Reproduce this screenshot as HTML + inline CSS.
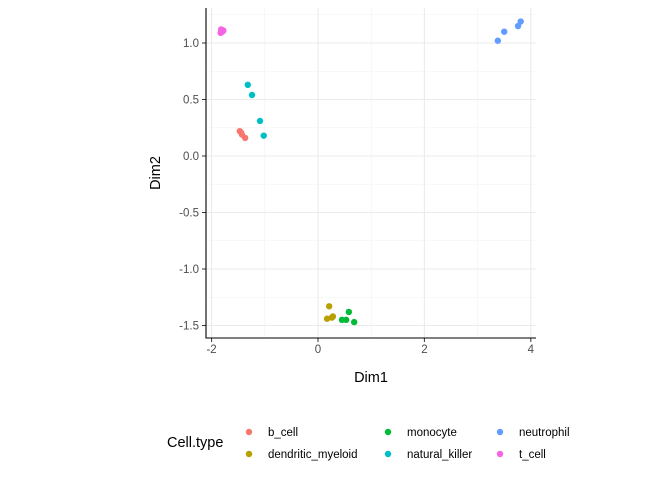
<!DOCTYPE html>
<html><head><meta charset="utf-8"><style>
body{margin:0;background:#fff;font-family:"Liberation Sans",Arial,sans-serif}
text{font-family:"Liberation Sans",Arial,sans-serif}
</style></head><body>
<svg id="c" width="672" height="480"></svg>
<script>
const cellTypes=["b_cell","dendritic_myeloid","monocyte","natural_killer","neutrophil","t_cell"];
const colors=["#F8766D","#B79F00","#00BA38","#00BFC4","#619CFF","#F564E3"];
const dim1=[-1.47,-1.43,-1.37,-1.45, 0.21,0.17,0.26,0.28, 0.58,0.53,0.45,0.68, -1.32,-1.24,-1.09,-1.02, 3.38,3.50,3.76,3.81, -1.82,-1.80,-1.83,-1.78];
const dim2=[0.22,0.19,0.16,0.21, -1.33,-1.44,-1.43,-1.42, -1.38,-1.45,-1.45,-1.47, 0.63,0.54,0.31,0.18, 1.02,1.10,1.15,1.19, 1.12,1.10,1.09,1.11];
const types=[0,0,0,0,1,1,1,1,2,2,2,2,3,3,3,3,4,4,4,4,5,5,5,5];
const xTicks=[-2,0,2,4];
const yTicks=[-1.5,-1.0,-0.5,0.0,0.5,1.0];
const NS="http://www.w3.org/2000/svg";
const svg=document.getElementById('c');
const L=206,R=536,T=8,B=338;
const sx=v=>318+53.2*v, sy=v=>156-113*v;
function mk(t,a,p){const e=document.createElementNS(NS,t);for(const k in a)e.setAttribute(k,a[k]);(p||svg).appendChild(e);return e;}
// minor grid
for(let v=-1;v<=3;v+=2){const e=mk('line',{x1:sx(v),x2:sx(v),y1:T,y2:B,stroke:'#f2f2f2','stroke-width':0.6});

}
for(let v=-1.25;v<=1.3;v+=0.5){const e=mk('line',{x1:L,x2:R,y1:sy(v),y2:sy(v),stroke:'#f2f2f2','stroke-width':0.6});

}
xTicks.forEach(v=>{const g=mk('line',{x1:sx(v),x2:sx(v),y1:T,y2:B,stroke:'#ebebeb','stroke-width':1.1});


mk('line',{x1:sx(v),x2:sx(v),y1:B,y2:B+4,stroke:'#333'});
const t=mk('text',{x:sx(v),y:B+15,'font-size':11.5,fill:'#4d4d4d','text-anchor':'middle'});t.textContent=v;

});
yTicks.forEach(v=>{const g=mk('line',{x1:L,x2:R,y1:sy(v),y2:sy(v),stroke:'#ebebeb','stroke-width':1.1});


mk('line',{x1:L-4,x2:L,y1:sy(v),y2:sy(v),stroke:'#333'});
const t=mk('text',{x:L-7,y:sy(v)+4,'font-size':11.5,fill:'#4d4d4d','text-anchor':'end'});t.textContent=v.toFixed(1);

});
const ax=mk('path',{d:`M${L},${T}V${B}H${R}`,fill:'none',stroke:'#000','stroke-width':1.1});


dim1.forEach((x,i)=>{const c=mk('circle',{cx:sx(x),cy:sy(dim2[i]),r:3.2,fill:colors[types[i]]});

});
let t=mk('text',{x:371,y:382,'font-size':14.5,'text-anchor':'middle',fill:'#000'});t.textContent='Dim1';


t=mk('text',{x:0,y:0,'font-size':14.5,'text-anchor':'middle',fill:'#000',transform:'translate(160,173) rotate(-90)'});t.textContent='Dim2';


t=mk('text',{x:167,y:447,'font-size':14.5,fill:'#000'});t.textContent='Cell.type';


const colX=[249,388,500],rowY=[432,454];
cellTypes.forEach((n,i)=>{const cx=colX[Math.floor(i/2)],cy=rowY[i%2];
const c=mk('circle',{cx:cx,cy:cy,r:3.2,fill:colors[i]});


const tt=mk('text',{x:cx+19,y:cy+4,'font-size':11.5,fill:'#000'});tt.textContent=n;

});
</script>
</body></html>
